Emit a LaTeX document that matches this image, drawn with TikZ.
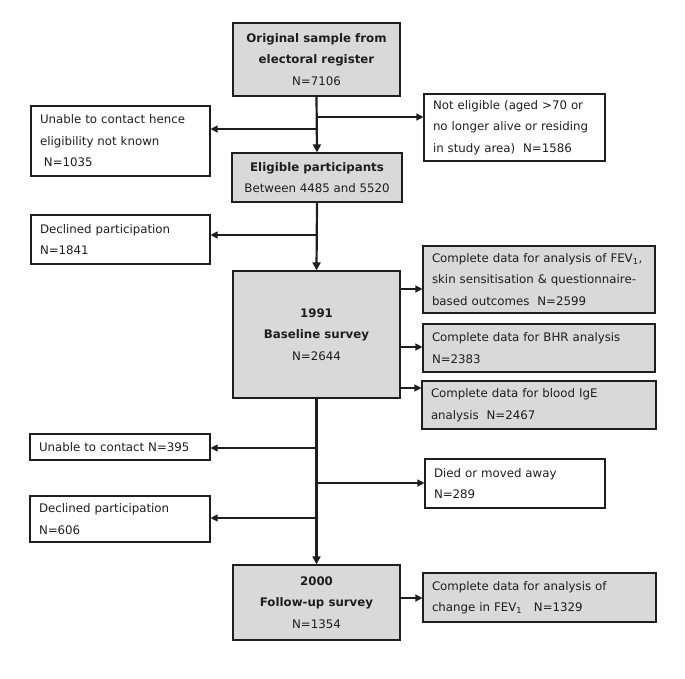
\documentclass[tikz,border=0pt]{standalone}
\usepackage{fontspec}
\setmainfont{DejaVu Sans}
\usepackage{xcolor}
\usetikzlibrary{arrows.meta, positioning, calc}
\definecolor{boxgray}{RGB}{217,217,217}
\definecolor{linegray}{RGB}{30,30,30}
\tikzset{
  mainbox/.style={
    rectangle, draw=linegray, fill=boxgray, line width=1.3pt,
    align=center, inner sep=0pt, minimum width=167pt
  },
  sidebox/.style={
    rectangle, draw=linegray, line width=1.1pt,
    align=left, inner xsep=9pt, inner ysep=0pt
  },
  databox/.style={sidebox, fill=boxgray},
  flow/.style={-{Triangle[length=8pt,width=8pt]}, line width=2.2pt, linegray},
  arrow/.style={-{Triangle[length=7pt,width=7pt]}, line width=1.2pt, linegray}
}

\begin{document}
\begin{tikzpicture}[x=1pt, y=-1pt, font=\fontsize{11.8}{21.5}\selectfont, text=linegray]
  \useasboundingbox (0,0) rectangle (685,678);

  % main column
  \node[mainbox, minimum height=73pt]  (orig)   at (316.5,59.5)  {\textbf{Original sample from}\\ \textbf{electoral register}\\ N=7106};
  \node[mainbox, minimum width=170pt, minimum height=49pt] (elig) at (317,177.5) {\textbf{Eligible participants}\\ Between 4485 and 5520};
  \node[mainbox, minimum height=127pt] (base)   at (316.5,334.5) {\textbf{1991}\\ \textbf{Baseline survey}\\ N=2644};
  \node[mainbox, minimum height=75pt]  (follow) at (316.5,602.5) {\textbf{2000}\\ \textbf{Follow-up survey}\\ N=1354};

  % excluded, left side
  \node[sidebox, text width=161pt, minimum height=70pt] (nocontact) at (120.5,141)  {Unable to contact hence\\ eligibility not known\\ \ N=1035};
  \node[sidebox, text width=161pt, minimum height=49pt] (decl1)     at (120.5,239.5) {Declined participation\\ N=1841};
  \node[sidebox, text width=162pt, minimum height=26pt] (lost)      at (120,447)     {Unable to contact N=395};
  \node[sidebox, text width=162pt, minimum height=46pt] (decl2)     at (120,519)     {Declined participation\\ N=606};

  % excluded, right side
  \node[sidebox, text width=163pt, minimum height=67pt] (noelig) at (514.5,127.5) {Not eligible (aged >70 or\\ no longer alive or residing\\ in study area)\ \ N=1586};
  \node[sidebox, text width=162pt, minimum height=49pt] (died)   at (515,483.5)   {Died or moved away\\ N=289};

  % analysed data
  \node[databox, text width=214pt, minimum height=67pt] (fev)  at (539,279.5) {Complete data for analysis of FEV\textsubscript{1},\\ skin sensitisation \& questionnaire-\\ based outcomes\ \ N=2599};
  \node[databox, text width=214pt, minimum height=48pt] (bhr)  at (539,348)   {Complete data for BHR analysis\\ N=2383};
  \node[databox, text width=216pt, minimum height=48pt] (ige)  at (539,405)   {Complete data for blood IgE\\ analysis\ \ N=2467};
  \node[databox, text width=215pt, minimum height=49pt] (chg)  at (539.5,597.5) {Complete data for analysis of\\ change in FEV\textsubscript{1}\ \ \ N=1329};

  % branch points on the main line
  \coordinate (j1) at (316.5,117);
  \coordinate (j2) at (316.5,129);
  \coordinate (j3) at (316.5,235);
  \coordinate (j4) at (316.5,448);
  \coordinate (j5) at (316.5,483);
  \coordinate (j6) at (316.5,518);
  \coordinate (b1) at (400,289);
  \coordinate (b2) at (400,347);
  \coordinate (b3) at (400,388);
  \coordinate (f1) at (400,598);

  \foreach \from/\to in {orig/elig, elig/base, base/follow}
    \draw[flow] (\from.south) -- (\to.north);

  \draw[arrow] (j1) -- (j1 -| noelig.west);
  \draw[arrow] (j2) -- (j2 -| nocontact.east);
  \draw[arrow] (j3) -- (j3 -| decl1.east);
  \draw[arrow] (j4) -- (j4 -| lost.east);
  \draw[arrow] (j5) -- (j5 -| died.west);
  \draw[arrow] (j6) -- (j6 -| decl2.east);

  \foreach \pt/\to in {b1/fev, b2/bhr, b3/ige, f1/chg}
    \draw[arrow] (\pt) -- (\pt -| \to.west);
\end{tikzpicture}
\end{document}
